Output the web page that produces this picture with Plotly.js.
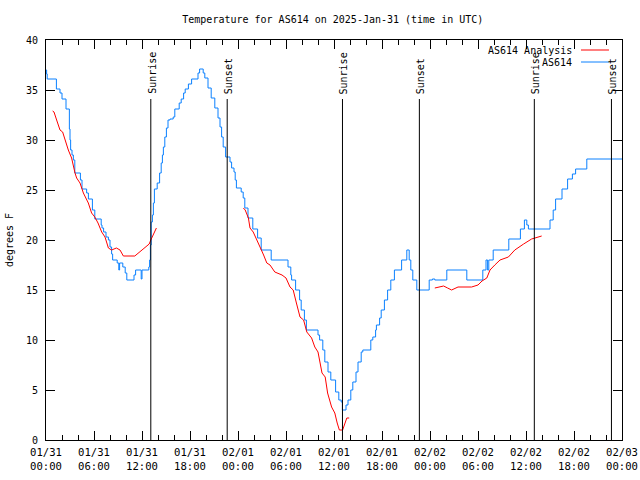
<!DOCTYPE html>
<html>
<head>
<meta charset="utf-8">
<script src="https://cdn.plot.ly/plotly-3.0.1.min.js"></script>
<style>html,body{margin:0;padding:0;background:#fff}#chart{width:640px;height:480px}</style>
</head>
<body>
<div id="chart"></div>
<script>
// hours since 2025-01-31 00:00 UTC
var startTime = '2025-01-31 00:00';
var endTime = '2025-02-03 00:00';

var obsHours = [0.0,0.08,0.15,1.3,1.75,2.0,2.5,2.92,3.0,3.08,3.25,3.42,3.6,4.3,4.5,5.08,5.3,5.8,6.1,6.9,7.0,7.2,7.5,7.8,8.0,8.2,8.33,8.9,9.1,9.2,9.6,9.9,10.1,11.0,11.2,11.9,12.0,12.85,12.95,13.05,13.15,13.3,13.42,13.55,13.9,14.2,14.4,14.55,14.67,14.85,15.05,15.25,15.5,15.9,16.1,16.65,16.9,17.2,17.4,17.8,18.2,19.0,19.2,19.65,19.85,20.25,20.65,21.1,21.5,21.75,21.95,22.15,22.45,23.0,23.2,23.5,23.65,23.8,24.4,24.65,24.85,25.25,25.85,26.45,26.9,28.15,30.25,30.6,30.7,31.2,31.7,31.9,32.3,32.55,34.0,34.2,34.6,34.85,35.25,35.6,36.2,36.6,36.9,37.05,37.5,37.75,38.1,38.35,38.75,39.0,39.4,39.6,40.6,40.85,41.2,41.3,41.7,41.9,42.3,42.7,43.1,43.55,44.45,45.1,45.4,45.6,45.85,46.35,47.9,48.3,48.6,50.1,52.6,54.6,55.0,55.2,55.35,55.9,57.85,59.3,59.8,60.1,60.3,63.0,63.4,63.7,64.5,65.2,65.8,66.2,67.6,72.0];
var obsTemp = [37.0,36.6,36.1,35.1,34.7,34.1,33.1,31.1,30.0,29.0,28.5,28.0,26.7,26.0,25.1,24.7,24.1,23.0,22.1,21.5,21.2,20.8,20.3,20.0,19.3,18.6,18.0,17.7,17.0,17.7,17.3,16.7,16.0,16.5,17.0,16.1,17.0,17.3,18.0,19.5,21.8,22.5,23.7,25.1,25.7,26.7,27.7,28.5,29.3,30.3,31.2,32.0,32.1,32.3,33.1,33.7,34.1,34.7,35.1,35.6,36.1,36.7,37.1,36.7,36.2,35.2,34.2,33.2,32.2,31.3,30.3,29.3,28.3,27.8,27.2,26.8,26.0,25.2,24.8,24.2,23.2,22.2,21.1,20.2,19.0,18.0,17.3,16.5,16.0,15.0,14.0,13.0,12.0,11.0,10.5,10.0,9.0,7.8,6.8,6.0,4.8,4.0,3.8,3.0,3.5,4.0,5.0,5.8,6.8,7.8,8.8,9.0,10.0,10.3,11.0,11.5,12.2,13.0,14.0,15.0,16.0,17.0,18.0,19.0,18.0,17.0,16.0,15.0,16.0,16.1,16.0,17.0,16.0,17.0,18.0,17.0,18.0,19.0,20.1,21.1,22.0,21.5,21.1,22.0,23.0,24.1,25.1,26.1,26.6,27.1,28.1,28.1];

var anaHours = [0.83,1.0,1.33,1.75,2.08,2.375,2.79,3.2,3.42,3.625,3.83,4.25,4.67,5.29,5.7,6.1,6.5,6.96,7.375,7.8,8.2,8.8,9.25,9.67,11.1,11.7,12.1,12.5,12.9,13.1,13.5,13.8,
  18.0,
  24.67,24.9,25.3,25.5,25.9,26.3,26.75,27.2,27.6,28.0,28.6,29.5,30.0,30.5,30.9,31.3,31.75,32.2,32.6,33.2,33.6,34.0,34.5,34.9,35.2,35.7,36.1,36.4,36.67,37.08,37.6,37.9,
  43.0,
  48.6,49.2,49.7,50.2,50.7,51.5,53.2,54.0,54.5,55.1,55.5,56.1,56.75,57.8,58.6,59.7,60.7,61.96];
var anaTemp = [32.9,32.8,32.0,31.0,30.8,30.0,29.0,28.2,27.3,26.7,26.2,25.7,24.7,23.7,22.7,22.3,21.7,20.8,20.3,19.2,19.0,19.2,19.0,18.4,18.4,18.8,19.0,19.3,19.6,20.0,20.8,21.2,
  null,
  23.2,23.0,22.2,21.2,20.8,20.0,19.3,18.5,17.7,17.5,16.8,16.5,16.2,15.3,15.0,13.7,12.3,12.0,10.8,10.2,9.3,8.8,6.7,6.3,4.7,3.3,2.7,1.7,1.0,1.0,2.2,2.2,
  null,
  15.2,15.3,15.4,15.2,15.0,15.3,15.3,15.5,15.9,16.2,17.0,17.5,18.0,18.3,19.0,19.6,20.1,20.4];

var sunriseHours = [13.1, 37.06, 61.04];
var sunsetHours = [22.65, 46.67, 70.68];

var base = Date.UTC(2025, 0, 31, 0, 0, 0);
function toMs(h) { return base + h * 3600000; }

var FONT = 'DejaVu Sans Mono, Liberation Mono, monospace';

var traces = [
  { x: obsHours.map(toMs), y: obsTemp, type: 'scatter', mode: 'lines',
    line: { color: '#0a80ff', width: 1, shape: 'hv' }, name: 'AS614', showlegend: false },
  { x: anaHours.map(toMs), y: anaTemp, type: 'scatter', mode: 'lines',
    line: { color: '#ff0000', width: 1 }, name: 'AS614 Analysis', connectgaps: false, showlegend: false }
];

var shapes = [];
var annotations = [];
function addEvent(h, label) {
  shapes.push({ type: 'line', xref: 'x', yref: 'y', x0: toMs(h), x1: toMs(h), y0: 0, y1: 34.1,
    line: { color: '#000', width: 1 } });
  annotations.push({ xref: 'x', yref: 'y', x: toMs(h), y: 34.8, yshift: -4, xshift: 1, text: label, textangle: -90,
    showarrow: false, xanchor: 'center', yanchor: 'bottom', font: { family: FONT, size: 10, color: '#000' } });
}
sunriseHours.forEach(function (h) { addEvent(h, 'Sunrise'); });
sunsetHours.forEach(function (h) { addEvent(h, 'Sunset'); });

// legend (gnuplot style: text then line sample)
var legendItems = [ { name: 'AS614 Analysis', color: '#ff0000', y: 0.975 }, { name: 'AS614', color: '#0a80ff', y: 0.945 } ];
legendItems.forEach(function (it) {
  annotations.push({ xref: 'paper', yref: 'paper', x: 0.9167, y: it.y, text: it.name, showarrow: false,
    xanchor: 'right', yanchor: 'middle', font: { family: FONT, size: 10, color: '#000' } });
  shapes.push({ type: 'line', xref: 'paper', yref: 'paper', x0: 0.9288, x1: 0.9774, y0: it.y, y1: it.y,
    line: { color: it.color, width: 1 } });
});

var layout = {
  width: 640, height: 480,
  margin: { l: 46, r: 18, t: 40, b: 40 },
  paper_bgcolor: '#fff', plot_bgcolor: '#fff',
  showlegend: false,
  font: { family: FONT, size: 10, color: '#000' },
  title: { text: 'Temperature for AS614 on 2025-Jan-31 (time in UTC)', x: 0.52, xanchor: 'center', y: 0.96, yanchor: 'middle',
    font: { family: FONT, size: 10, color: '#000' } },
  xaxis: {
    type: 'date', range: [startTime, endTime], dtick: 21600000, tick0: startTime,
    tickformat: '%m/%d<br>%H:%M', ticks: 'inside', ticklen: 9, tickcolor: '#000', tickwidth: 1,
    showline: true, linecolor: '#000', linewidth: 1, mirror: 'ticks', showgrid: false, zeroline: false,
    minor: { dtick: 7200000, ticks: 'inside', ticklen: 5, tickcolor: '#000', showgrid: false },
    tickfont: { family: FONT, size: 10.6, color: '#000' }, ticklabelstandoff: 2
  },
  yaxis: {
    range: [0, 40], dtick: 5, ticks: 'inside', ticklen: 9, tickcolor: '#000', tickwidth: 1,
    showline: true, linecolor: '#000', linewidth: 1, mirror: 'ticks', showgrid: false, zeroline: false,
    tickfont: { family: FONT, size: 10, color: '#000' }, ticklabelstandoff: 5,
    title: { text: 'degrees F', font: { family: FONT, size: 10, color: '#000' }, standoff: 10 }
  },
  shapes: shapes,
  annotations: annotations
};

Plotly.newPlot('chart', traces, layout, { staticPlot: true, displayModeBar: false });
</script>
</body>
</html>
